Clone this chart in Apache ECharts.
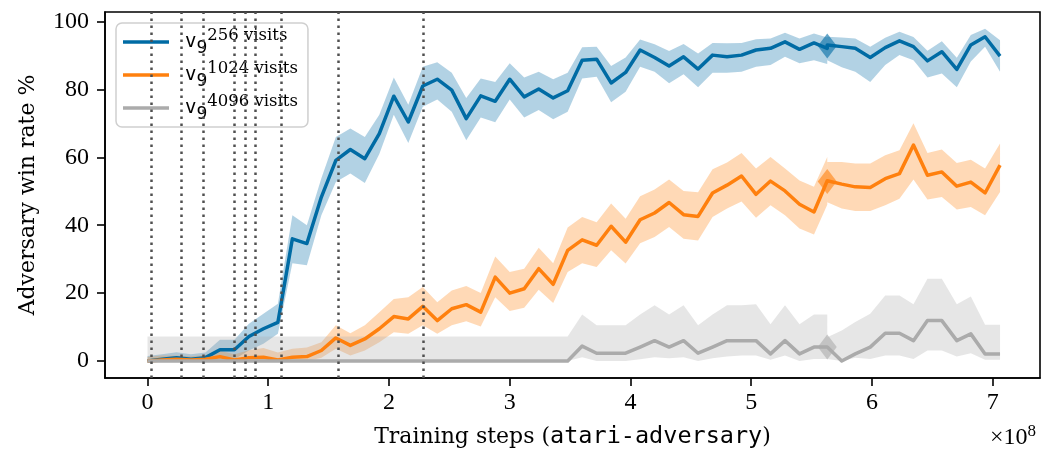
<!DOCTYPE html>
<html>
<head>
<meta charset="utf-8">
<script src="https://cdn.jsdelivr.net/npm/echarts@6/dist/echarts.min.js"></script>
<style>html,body{margin:0;padding:0;background:#fff}#c{width:1043px;height:457px}</style>
</head>
<body>
<div id="c"></div>
<script>
// ---- data (x in units of 1e8 training steps) ----
const stepsA = [0,0.12,0.24,0.36,0.48,0.60,0.72,0.84,0.96,1.08,1.20,1.32,1.44,1.56,1.68,1.80,1.92,2.04,2.16,2.28,2.40,2.52,2.64,2.76,2.88,3.00,3.12,3.24,3.36,3.48,3.60,3.72,3.84,3.96,4.08,4.20,4.32,4.44,4.56,4.68,4.80,4.92,5.04,5.16,5.28,5.40,5.52,5.63];
const stepsB = [5.63,5.75,5.862,5.986,6.11,6.228,6.344,6.46,6.579,6.703,6.819,6.937,7.061];

const blueA   = [0,0.5,1,0.5,1,3.3,3.3,7.2,9.5,11.4, 36.0,34.6,48.3,59.1,62.3,59.6,67.0,78.0,70.4, 81,83.0,79.8,71.4,78.1,76.5,83.0,77.8,80.1,77.5,79.6,88.6,88.9,81.9,85.0,91.6,89.4,86.9,89.6,86.0,90.1,89.6,90.1, 91.6,92.1,94.0,91.8,93.7,92.1];
const blueAHi = [1.5,2,2.6,2,2.5,6.3,6.3,11,13.9,16.9, 42.9,40.0,53.8,66.0,68.5,66.0,72.5,83.5,75.5, 86.7,88.0,84.9,77.5,83.2,82.2,87.7,83.5,85.2,83.0,84.9,92.4,92.6,86.9,89.4,94.7,93.3,91.3,93.4,90.6,93.7,93.6,93.7, 94.8,95.0,96.7,95.0,96.5,95.3];
const blueALo = [0,0,0,0,0,0.5,0.5,3.1,5.1,8.0, 28.8,28.2,42.9,52.7,55.2,52.4,61.0,72.5,64.2, 74.9,77.0,73.4,65.0,71.7,70.3,77.0,71.7,73.9,71.2,73.4,83.2,83.7,76.2,79.3,86.7,85.2,81.8,84.5,80.6,84.9,84.9,85.2, 86.7,87.2,89.6,87.7,88.6,87.5];
const blueB   = [93.1,92.6,92.1,89.4,92.3,94.3,92.6,88.4,91.1,85.9,93.1,95.5,89.8];
const blueBHi = [95.5,95.3,95.0,92.6,95.2,97.0,95.4,91.4,94.2,89.3,96.0,97.9,94.5];
const blueBLo = [88.6,86.5,85.2,82.2,87.2,90.1,88.6,83.5,84.7,80.6,88.2,92.6,85.2];

const orangeA   = [0,0.3,0.5,0.3,0.5,1.3,0.3,1.0,1.1,0.3,1.1,1.3,3.1, 6.8,4.6,6.5,9.5,13.1,12.4, 16.1,11.9,15.4,16.6,14.4,24.7,20.0,21.3,27.2,22.6,32.6,35.7,34.1,39.7,35.0,41.6,43.6,46.7,43.1,42.6,49.5,51.8,54.5, 49.1,53.0,50.1,46.2,43.9,53.1];
const orangeAHi = [1.2,1.6,1.6,1.4,1.8,3.0,2.0,3.2,3.8,2.5,3.6,4.0,5.5, 10.5,8.2,10.5,14.4,18.3,18.8, 21.8,17.3,20.8,22.1,20.0,30.8,26.2,27.2,33.4,28.8,39.3,42.4,40.9,46.4,41.9,48.5,50.5,53.5,50.1,49.7,56.5,58.5,61.3, 56.7,60.1,56.7,53.2,51.3,60.1];
const orangeALo = [0,0,0,0,0,0,0,0,0,0,0,0,1.0, 3.6,1.6,3.1,5.5,8.5,8.0, 10.5,8.0,10.5,11.7,10.2,18.8,14.7,15.7,21.0,17.1,26.2,28.8,27.7,32.6,28.7,34.7,36.5,39.5,36.0,35.5,42.4,44.9,47.0, 42.2,45.9,42.9,39.0,37.3,46.0];
const orangeB   = [52.7,52.1,51.3,51.1,53.7,55.2,63.6,54.7,55.7,51.5,52.7,49.5,57.7];
const orangeBHi = [58.6,58.6,58.2,58.2,60.6,62.1,70.0,61.3,62.3,58.3,59.3,56.7,64.1];
const orangeBLo = [46.8,44.9,44.2,44.2,45.9,47.8,53.5,47.6,48.3,44.6,45.4,42.9,49.8];

const grayA   = [0,0,0,0,0,0,0,0,0,0,0,0,0,0,0,0,0,0,0,0,0,0,0,0,0,0,0,0,0,0, 4.4,2.3,2.3,2.3,4.1,6.0,4.1,6.0,2.3,4.1,6.0,6.0, 6.0,2.1,6.0,2.1,4.1,4.1];
const grayAHi = [7.2,7.2,7.2,7.2,7.2,7.2,7.2,7.2,7.2,7.2,7.2,7.2,7.2,7.2,7.2,7.2,7.2,7.2,7.2,7.2,7.2,7.2,7.2,7.2,7.2,7.2,7.2,7.2,7.2,7.2, 13.7,10.5,10.5,10.5,13.7,16.4,13.7,16.4,10.5,13.7,16.4,16.4, 16.7,10.8,16.4,10.8,13.7,13.7];
const grayALo = [0,0,0,0,0,0,0,0,0,0,0,0,0,0,0,0,0,0,0,0,0,0,0,0,0,0,0,0,0,0, 1.1,0,0,0,0.5,1.1,0.8,1.1,0,0.8,1.3,1.6, 1.6,0.4,1.6,0,0.6,0.6];
const grayB   = [4.1,0,2.1,4.1,8.2,8.2,6.0,11.9,11.9,6.0,8.0,2.1,2.1];
const grayBHi = [7.0,9.0,11.5,13.9,19.3,19.3,16.7,24.2,24.2,16.7,19.0,10.7,10.7];
const grayBLo = [0.6,0,1.0,0.6,1.6,1.6,0.6,3.1,3.1,1.3,2.3,0.4,0.4];

const resumeStep = 5.63;
const resumeValues = [92.8, 52.9, 4.1];          // blue, orange, gray at the resume point
const checkpointSteps = [0.025,0.276,0.461,0.717,0.814,0.891,1.115,1.582,2.283];
const xTicks = [0,1,2,3,4,5,6,7];
const yTicks = [0,20,40,60,80,100];
const visits = ['256','1024','4096'];
const names = ['v9-256','v9-1024','v9-4096'];
const colors = ['#006BA4','#FF800E','#ABABAB'];
const bandColors = ['rgba(0,107,164,0.3)','rgba(255,128,14,0.3)','rgba(171,171,171,0.3)'];

// ---- build ----
const SERIF = '"Liberation Serif", "DejaVu Serif", serif';
const WSERIF = '"DejaVu Serif", serif';
const MONO = '"DejaVu Sans Mono", "Liberation Mono", monospace';
const pair = (xs, ys) => xs.map((x, i) => [x, ys[i]]);

function band(xs, lo, hi, fill) {
  return {
    type: 'custom', silent: true, z: 1, clip: true,
    data: [[xs[0], lo[0]]],
    renderItem: function (params, api) {
      const pts = [];
      for (let i = 0; i < xs.length; i++) pts.push(api.coord([xs[i], hi[i]]));
      for (let i = xs.length - 1; i >= 0; i--) pts.push(api.coord([xs[i], lo[i]]));
      return { type: 'polygon', shape: { points: pts }, style: { fill: fill, stroke: null } };
    }
  };
}

const runs = [
  [blueA, blueAHi, blueALo, blueB, blueBHi, blueBLo],
  [orangeA, orangeAHi, orangeALo, orangeB, orangeBHi, orangeBLo],
  [grayA, grayAHi, grayALo, grayB, grayBHi, grayBLo]
];

const series = [];
runs.forEach((r, i) => {
  series.push(band(stepsA, r[2], r[1], bandColors[i]));
  series.push(band(stepsB, r[5], r[4], bandColors[i]));
});
runs.forEach((r, i) => {
  series.push({
    type: 'scatter', silent: true, z: 2,
    symbol: 'diamond', symbolSize: [19, 25],
    itemStyle: { color: colors[i], opacity: 0.6 },
    data: [[resumeStep, resumeValues[i]]]
  });
});
runs.forEach((r, i) => {
  series.push({
    name: names[i], type: 'line', z: 3, silent: true,
    showSymbol: false, symbol: 'none', color: colors[i],
    lineStyle: { width: 3.5, color: colors[i], join: 'round' },
    data: pair(stepsA, r[0]).concat(pair(stepsB, r[3]))
  });
});
series.push({
  type: 'line', z: 5, silent: true, data: [],
  markLine: {
    silent: true, symbol: ['none', 'none'], label: { show: false }, animation: false,
    lineStyle: { color: '#505050', width: 2.5, type: [2.5, 4.5], cap: 'butt' },
    data: checkpointSteps.map(x => ({ xAxis: x }))
  }
});

const chart = echarts.init(document.getElementById('c'), null, { renderer: 'canvas' });
chart.setOption({
  animation: false,
  backgroundColor: '#fff',
  grid: { left: 105, right: 3, top: 12, bottom: 79, show: true, borderColor: '#000', borderWidth: 1.6, backgroundColor: 'transparent' },
  xAxis: {
    type: 'value', min: -0.352, max: 7.392,
    splitLine: { show: false },
    axisLine: { show: true, onZero: false, lineStyle: { color: '#000', width: 1.6 } },
    axisTick: { show: true, length: 8, lineStyle: { color: '#000', width: 1.6 }, customValues: xTicks },
    axisLabel: { customValues: xTicks, color: '#000', fontFamily: SERIF, fontSize: 24, margin: 13 },
    name: '{a|Training steps (}{b|atari-adversary}{a|)}',
    nameLocation: 'middle', nameGap: 47,
    nameTextStyle: { rich: {
      a: { fontFamily: WSERIF, fontSize: 22, color: '#000' },
      b: { fontFamily: MONO, fontSize: 23.5, color: '#000' }
    } }
  },
  yAxis: {
    type: 'value', min: -5.0, max: 102.8,
    splitLine: { show: false },
    axisLine: { show: true, onZero: false, lineStyle: { color: '#000', width: 1.6 } },
    axisTick: { show: true, length: 8, lineStyle: { color: '#000', width: 1.6 }, customValues: yTicks },
    axisLabel: { customValues: yTicks, color: '#000', fontFamily: SERIF, fontSize: 24, margin: 16 },
    name: 'Adversary win rate %', nameLocation: 'middle', nameGap: 66, nameRotate: 90,
    nameTextStyle: { fontFamily: WSERIF, fontSize: 22, color: '#000' }
  },
  legend: {
    data: names, left: 116, top: 23, orient: 'vertical',
    icon: 'rect', itemWidth: 46, itemHeight: 3.5, itemGap: 3,
    padding: [4, 10, 4, 7],
    backgroundColor: 'rgba(255,255,255,0.8)', borderColor: '#cfcfcf', borderWidth: 1.5, borderRadius: 6,
    selectedMode: false,
    formatter: function (n) { return '{v|v}{n|9}{s|' + visits[names.indexOf(n)] + ' visits}'; },
    textStyle: { color: '#000', rich: {
      v: { fontFamily: MONO, fontSize: 19, lineHeight: 30, verticalAlign: 'middle', padding: [0, 0, 0, 11], color: '#000' },
      n: { fontFamily: MONO, fontSize: 18, lineHeight: 22, verticalAlign: 'bottom', color: '#000' },
      s: { fontFamily: WSERIF, fontSize: 16.5, lineHeight: 18, verticalAlign: 'top', color: '#000' }
    } }
  },
  graphic: [{
    type: 'text', right: 7, top: 423, silent: true,
    style: { text: '{a|×10}{s|8}', rich: {
      a: { fontFamily: SERIF, fontSize: 24, lineHeight: 30, verticalAlign: 'middle', fill: '#000' },
      s: { fontFamily: SERIF, fontSize: 17, lineHeight: 18, verticalAlign: 'top', fill: '#000' }
    } }
  }],
  series: series
});
</script>
</body>
</html>
